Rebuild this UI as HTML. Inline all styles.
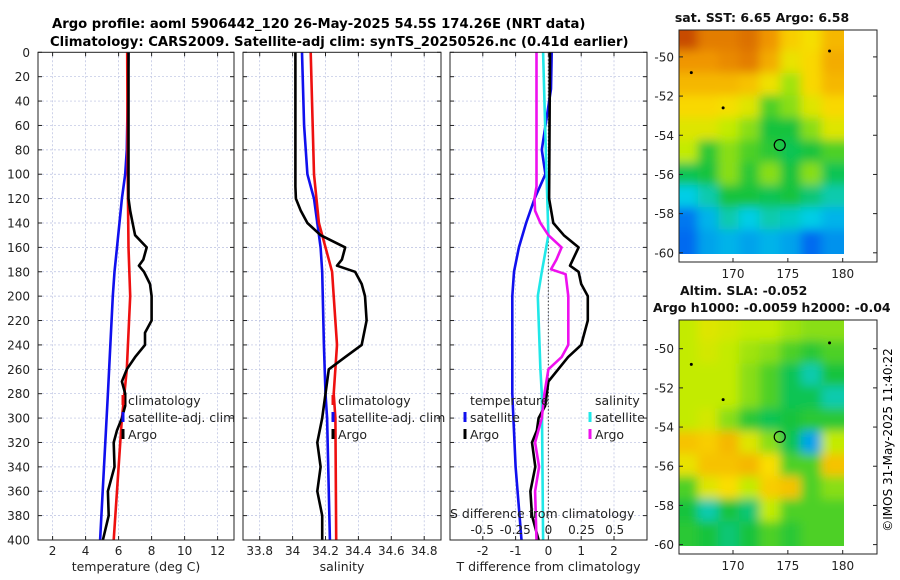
<!DOCTYPE html>
<html><head><meta charset="utf-8"><style>
html,body{margin:0;padding:0;background:#fff;}
svg{display:block;font-family:"DejaVu Sans","Liberation Sans",sans-serif;}
</style></head><body>
<svg id="fig" width="900" height="580" viewBox="0 0 900 580" xmlns="http://www.w3.org/2000/svg">
<defs>
<filter id="blur" x="-10%" y="-10%" width="120%" height="120%"><feGaussianBlur stdDeviation="5"/></filter>
<clipPath id="clipTop"><rect x="679" y="30" width="165" height="224"/></clipPath>
<clipPath id="clipBot"><rect x="679" y="320" width="165" height="226"/></clipPath>
</defs>
<text x="52" y="28" font-size="13.2" font-weight="bold">Argo profile: aoml 5906442_120 26-May-2025 54.5S 174.26E (NRT data)</text>
<text x="50" y="46" font-size="13.2" font-weight="bold">Climatology: CARS2009. Satellite-adj clim: synTS_20250526.nc (0.41d earlier)</text>
<g id="plots"></g>
<text transform="translate(892,440) rotate(-90)" text-anchor="middle" font-size="12">©IMOS 31-May-2025 11:40:22</text>
</svg>
<script>
// ---- data ----
const depthTicks = [0,20,40,60,80,100,120,140,160,180,200,220,240,260,280,300,320,340,360,380,400];
const tempTicks = [2,4,6,8,10,12];
const salTicks = [33.8,34,34.2,34.4,34.6,34.8];
const tdTicks = [-2,-1,0,1,2];
const sdTicks = [-0.5,-0.25,0,0.25,0.5];
const sdTickLabels = ["-0.5","-0.25","0","0.25","0.5"];

const tClimDepth = [0,100,160,200,260,280,300,400];
const tClimVal   = [6.52,6.55,6.6,6.7,6.5,6.35,6.2,5.7];
const tSatDepth = [0,80,100,120,160,180,200,280,400];
const tSatVal   = [6.6,6.5,6.4,6.2,5.9,5.75,5.65,5.35,4.88];
const tArgoDepth = [0,80,120,130,140,150,160,170,175,180,190,200,220,230,240,250,260,270,280,290,300,310,320,340,360,380,400];
const tArgoVal   = [6.6,6.6,6.6,6.7,6.85,7.0,7.7,7.5,7.23,7.54,7.9,8.0,8.0,7.6,7.6,7.0,6.5,6.2,6.4,6.4,6.2,5.9,5.7,5.75,5.35,5.4,5.05];

const sClimDepth = [0,100,140,160,180,200,240,280,300,400];
const sClimVal   = [34.11,34.13,34.16,34.2,34.24,34.25,34.27,34.25,34.26,34.265];
const sSatDepth = [0,60,100,120,160,180,240,280,300,400];
const sSatVal   = [34.057,34.07,34.09,34.13,34.17,34.18,34.19,34.2,34.21,34.227];
const sArgoDepth = [0,110,120,130,140,150,160,170,175,180,190,200,220,240,250,260,280,300,320,340,360,380,400];
const sArgoVal   = [34.017,34.017,34.02,34.05,34.09,34.17,34.32,34.3,34.27,34.38,34.42,34.44,34.45,34.42,34.32,34.22,34.2,34.18,34.15,34.17,34.15,34.18,34.18];

const dtSatDepth = [0,30,80,100,120,140,160,180,200,280,340,400];
const dtSatVal   = [0.1,0.08,-0.2,-0.09,-0.42,-0.68,-0.9,-1.05,-1.1,-1.1,-1.0,-0.82];
const dtArgoDepth = [0,120,140,150,160,175,180,190,200,220,240,250,260,270,280,290,300,310,320,340,360,380,400];
const dtArgoVal   = [0.05,0.02,0.15,0.47,0.92,0.66,0.92,1.0,1.2,1.2,1.0,0.6,0.3,0.0,-0.05,-0.1,-0.3,-0.35,-0.5,-0.4,-0.55,-0.5,-0.3];
const dsSatDepth = [0,80,150,180,200,260,280,400];
const dsSatVal   = [-0.04,-0.02,0.0,-0.05,-0.08,-0.06,-0.05,-0.04];
const dsArgoDepth = [0,110,120,130,140,150,160,170,178,182,200,240,250,260,280,300,320,340,360,400];
const dsArgoVal   = [-0.09,-0.09,-0.105,-0.1,-0.06,0.0,0.1,0.06,0.02,0.13,0.15,0.15,0.1,0.0,-0.03,-0.05,-0.1,-0.07,-0.1,-0.09];

const sstGrid = [
 [0.9,0.82,0.82,0.84,0.78,0.68,0.64,0.72],
 [0.78,0.78,0.8,0.82,0.74,0.62,0.66,0.74],
 [0.72,0.72,0.72,0.7,0.63,0.52,0.66,0.72],
 [0.66,0.66,0.64,0.6,0.45,0.5,0.6,0.66],
 [0.6,0.6,0.55,0.5,0.4,0.4,0.5,0.6],
 [0.55,0.42,0.5,0.45,0.42,0.38,0.4,0.45],
 [0.38,0.4,0.5,0.42,0.5,0.4,0.5,0.38],
 [0.25,0.3,0.4,0.4,0.38,0.4,0.35,0.3],
 [0.15,0.22,0.3,0.25,0.3,0.28,0.25,0.22],
 [0.12,0.2,0.22,0.2,0.22,0.2,0.12,0.18]];
const slaGrid = [
 [0.55,0.6,0.58,0.55,0.55,0.52,0.5,0.5],
 [0.55,0.58,0.55,0.52,0.5,0.45,0.42,0.45],
 [0.55,0.55,0.55,0.5,0.45,0.38,0.3,0.4],
 [0.55,0.55,0.55,0.5,0.45,0.38,0.38,0.3],
 [0.55,0.58,0.5,0.42,0.38,0.4,0.42,0.42],
 [0.7,0.68,0.72,0.6,0.5,0.38,0.2,0.55],
 [0.62,0.7,0.7,0.72,0.65,0.45,0.45,0.7],
 [0.45,0.6,0.65,0.55,0.68,0.7,0.45,0.5],
 [0.4,0.3,0.4,0.35,0.55,0.45,0.45,0.45],
 [0.42,0.4,0.35,0.4,0.45,0.42,0.45,0.45]];
const lonTicks = [170,175,180];
const latTicks = [-50,-52,-54,-56,-58,-60];
const argoLon = [174.26];
const argoLat = [-54.5];

// ---- helpers ----
const NS = "http://www.w3.org/2000/svg";
const root = document.getElementById('plots');
function mk(tag, attrs, parent){ const e=document.createElementNS(NS,tag); for(const k in attrs) e.setAttribute(k,attrs[k]); (parent||root).appendChild(e); return e; }
const Y0=52.3, Y1=540;
const yD = d => Y0 + d*(Y1-Y0)/400;

function panel(name, x0, x1, ticks, xf, labels, xlabel){
  const g = mk('g',{});
  
  
  ticks.forEach(t=>{ const l=mk('line',{x1:xf(t),x2:xf(t),y1:Y0,y2:Y1,stroke:'#b8bfe0','stroke-width':0.7,'stroke-dasharray':'2,2'},g);
      });
  depthTicks.forEach(d=>{ if(d===0||d===400) return; const l=mk('line',{x1:x0,x2:x1,y1:yD(d),y2:yD(d),stroke:'#b8bfe0','stroke-width':0.7,'stroke-dasharray':'2,2'},g);
      });
  ticks.forEach((t,i)=>{
    mk('line',{x1:xf(t),x2:xf(t),y1:Y1,y2:Y1-4,stroke:'#222'},g);
    mk('line',{x1:xf(t),x2:xf(t),y1:Y0,y2:Y0+4,stroke:'#222'},g);
    const tx=mk('text',{x:xf(t),y:Y1+15,'text-anchor':'middle','font-size':12,fill:'#222'},g); tx.textContent=labels[i];
     
  });
  depthTicks.forEach(d=>{ mk('line',{x1:x0,x2:x0+4,y1:yD(d),y2:yD(d),stroke:'#222'},g); mk('line',{x1:x1,x2:x1-4,y1:yD(d),y2:yD(d),stroke:'#222'},g); });
  const xl=mk('text',{x:(x0+x1)/2,y:571,'text-anchor':'middle','font-size':12.5,fill:'#222'},g); xl.textContent=xlabel;
   
  return g;
}
function frame(g,x0,x1){ const r=mk('rect',{x:x0,y:Y0,width:x1-x0,height:Y1-Y0,fill:'none',stroke:'#222','stroke-width':1},g);   }
function line(g, name, depths, vals, xf, color, w){
  const pts = depths.map((d,i)=>xf(vals[i]).toFixed(1)+','+yD(d).toFixed(1)).join(' ');
  const p = mk('polyline',{points:pts,fill:'none',stroke:color,'stroke-width':w||2.6,'stroke-linejoin':'round'},g);
  
  
}
function legend(g, x, y, color, label, name){
  mk('line',{x1:x-5,x2:x-5,y1:y-10,y2:y,stroke:color,'stroke-width':3},g);
  const t=mk('text',{x:x,y:y,'font-size':12.5,fill:'#222'},g); t.textContent=label;
  
  
}

depthTicks.forEach(d=>{ const t=mk('text',{x:30,y:yD(d)+4.5,'text-anchor':'end','font-size':12,fill:'#222'}); t.textContent=d;
    });

// panel 1 temperature
const xT = t => 52.6 + (t-2)*16.5;
const g1 = panel('temperature-panel', 38, 234, tempTicks, xT, tempTicks.map(String), 'temperature (deg C)');
line(g1,'temp-satellite-line',tSatDepth,tSatVal,xT,'#1010ee');
line(g1,'temp-climatology-line',tClimDepth,tClimVal,xT,'#ee1010');
line(g1,'temp-argo-line',tArgoDepth,tArgoVal,xT,'#000');
legend(g1,128,405,'#ee1010','climatology','legend-climatology');
legend(g1,128,422,'#1010ee','satellite-adj. clim','legend-satellite');
legend(g1,128,439,'#000','Argo','legend-argo');
frame(g1,38,234);

// panel 2 salinity
const xS = s => 259.7 + (s-33.8)*164.5;
const g2 = panel('salinity-panel', 243, 441, salTicks, xS, salTicks.map(String), 'salinity');
line(g2,'sal-satellite-line',sSatDepth,sSatVal,xS,'#1010ee');
line(g2,'sal-climatology-line',sClimDepth,sClimVal,xS,'#ee1010');
line(g2,'sal-argo-line',sArgoDepth,sArgoVal,xS,'#000');
legend(g2,338,405,'#ee1010','climatology','legend-climatology');
legend(g2,338,422,'#1010ee','satellite-adj. clim','legend-satellite');
legend(g2,338,439,'#000','Argo','legend-argo');
frame(g2,243,441);

// panel 3 differences
const xDT = v => 548.4 + v*32.8;
const xDS = v => 548.4 + v*132.5;
const g3 = panel('difference-panel', 450, 647, tdTicks, xDT, tdTicks.map(String), 'T difference from climatology');
mk('line',{x1:xDT(0),x2:xDT(0),y1:Y0,y2:Y1,stroke:'#555','stroke-width':1.2,'stroke-dasharray':'1.5,2'},g3);
line(g3,'temp-diff-satellite-line',dtSatDepth,dtSatVal,xDT,'#1010ee');
line(g3,'sal-diff-satellite-line',dsSatDepth,dsSatVal,xDS,'#20e8e8');
line(g3,'temp-diff-argo-line',dtArgoDepth,dtArgoVal,xDT,'#000');
line(g3,'sal-diff-argo-line',dsArgoDepth,dsArgoVal,xDS,'#ee10ee');
const lt=mk('text',{x:470,y:405,'font-size':12.5,fill:'#222'},g3); lt.textContent='temperature';
 
const ls=mk('text',{x:595,y:405,'font-size':12.5,fill:'#222'},g3); ls.textContent='salinity';
 
legend(g3,470,422,'#1010ee','satellite','legend-temp-satellite');
legend(g3,470,439,'#000','Argo','legend-temp-argo');
legend(g3,595,422,'#20e8e8','satellite','legend-sal-satellite');
legend(g3,595,439,'#ee10ee','Argo','legend-sal-argo');
const st=mk('text',{x:450,y:518,'font-size':12.5,fill:'#222'},g3); st.textContent='S difference from climatology';
 
sdTicks.forEach((v,i)=>{ const t=mk('text',{x:xDS(v),y:534,'text-anchor':'middle','font-size':12,fill:'#222'},g3); t.textContent=sdTickLabels[i];
    });
frame(g3,450,647);

// ---- maps ----
const stops=[[0,[0,50,240]],[0.15,[0,120,240]],[0.25,[0,205,230]],[0.4,[20,195,60]],[0.55,[195,235,0]],[0.65,[250,222,0]],[0.78,[240,150,0]],[0.9,[200,75,0]],[1,[170,20,0]]];
function cmap(v){ for(let i=1;i<stops.length;i++){ if(v<=stops[i][0]){ const a=stops[i-1],b=stops[i],f=(v-a[0])/(b[0]-a[0]); const c=a[1].map((x,k)=>Math.round(x+(b[1][k]-x)*f)); return 'rgb('+c.join(',')+')'; } } return 'rgb(170,20,0)'; }
function map(name, title1, title2, grid, top, lat50y, lat60y, clip){
  const g=mk('g',{});  
  const xL = lon => 733 + (lon-170)*10.97;
  const yL = lat => lat50y + (-50-lat)*(lat60y-lat50y)/10;
  const boxH = clip==='clipTop'?232:234;
  const imgX0=679, imgX1=844, imgY0=top, imgY1=(clip==='clipTop'?254:546);
  const cg=mk('g',{'clip-path':'url(#'+clip+')'},g);
  const cg2=mk('g',{filter:'url(#blur)'},cg);
  const rows=grid.length, cols=grid[0].length, cw=(imgX1-imgX0)/cols, ch=(imgY1-imgY0)/rows;
  grid.forEach((row,r)=>row.forEach((v,c)=>{
    const ex0 = c===0?14:2, ex1 = c===cols-1?14:2, ey0 = r===0?14:2, ey1 = r===rows-1?14:2;
    const cell=mk('rect',{x:imgX0+c*cw-ex0,y:imgY0+r*ch-ey0,width:cw+ex0+ex1,height:ch+ey0+ey1,fill:cmap(v)},cg2);
      }));
  const box=mk('rect',{x:679,y:top,width:198,height:boxH,fill:'none',stroke:'#222'},g);
   
  lonTicks.forEach(l=>{ mk('line',{x1:xL(l),x2:xL(l),y1:top+boxH,y2:top+boxH-4,stroke:'#222'},g);
    const t=mk('text',{x:xL(l),y:top+boxH+16,'text-anchor':'middle','font-size':12,fill:'#222'},g); t.textContent=l;
      });
  latTicks.forEach(l=>{ mk('line',{x1:679,x2:683,y1:yL(l),y2:yL(l),stroke:'#222'},g); mk('line',{x1:877,x2:873,y1:yL(l),y2:yL(l),stroke:'#222'},g);
    const t=mk('text',{x:674,y:yL(l)+4.5,'text-anchor':'end','font-size':12,fill:'#222'},g); t.textContent=l;
      });
  argoLon.forEach((lo,i)=>{ const c=mk('circle',{cx:xL(lo),cy:yL(argoLat[i]),r:5.5,fill:'none',stroke:'#000','stroke-width':1.2},g);
      });
  [[166.2,-50.8],[169.1,-52.6],[178.8,-49.7]].forEach(p=>{ mk('circle',{cx:xL(p[0]),cy:yL(p[1]),r:1.5,fill:'#000'},g); });
  if(title1){ const t=mk('text',{x:top<100?762:680,y:top<100?22:top-25,'text-anchor':top<100?'middle':'start','font-size':12.5,'font-weight':'bold',fill:'#111'},g); t.textContent=title1;
      }
  if(title2){ const t=mk('text',{x:653,y:top-8,'font-size':12.5,'font-weight':'bold',fill:'#111'},g); t.textContent=title2;
      }
}
map('sst-map','sat. SST: 6.65 Argo: 6.58',null,sstGrid,30,56.9,252.8,'clipTop');
map('sla-map','Altim. SLA: -0.052','Argo h1000: -0.0059 h2000: -0.04',slaGrid,320,348.7,544.6,'clipBot');
</script>
</body></html>
